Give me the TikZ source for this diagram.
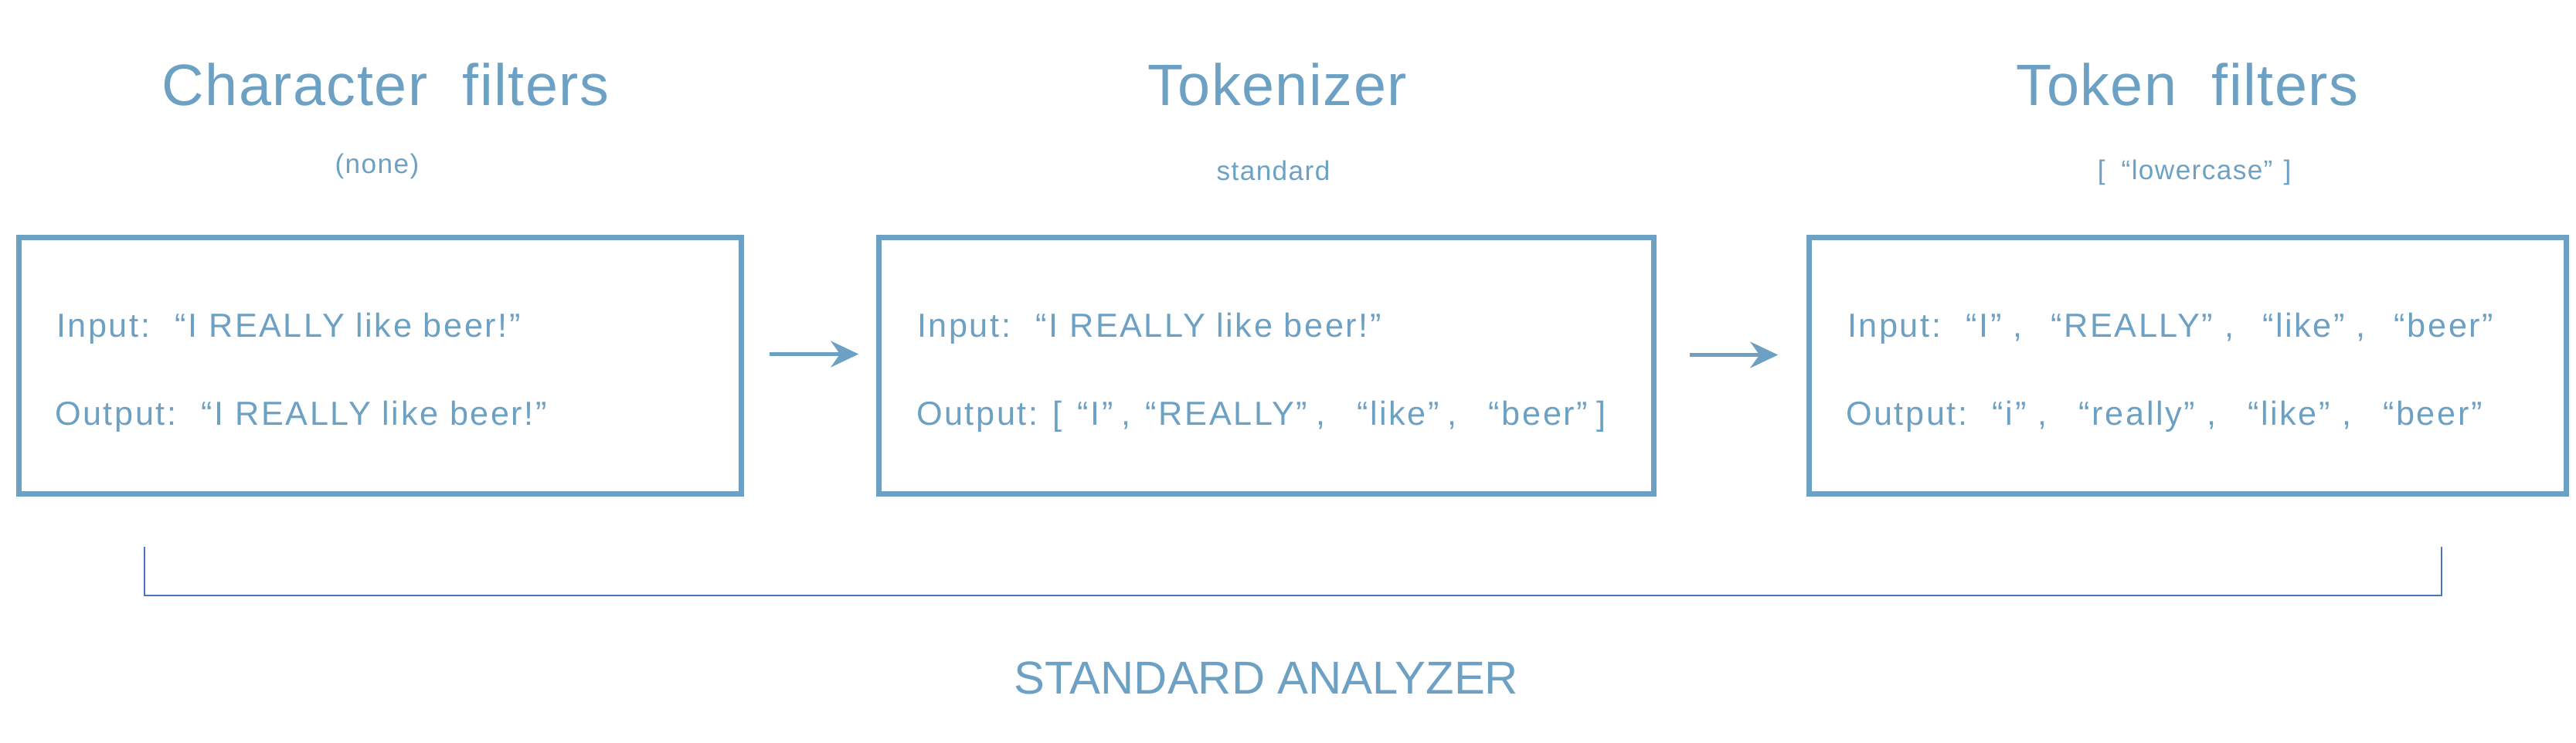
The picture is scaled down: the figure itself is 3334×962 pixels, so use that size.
\documentclass[tikz,border=0pt]{standalone}
\usepackage{fontspec}
\setmainfont{Liberation Sans}
\newfontfamily\titlefont{Liberation Sans}[LetterSpace=2]
\newfontfamily\subfont{Liberation Sans}[LetterSpace=4]
\newfontfamily\bodyfont{Liberation Sans}[LetterSpace=6]
\usepackage{xcolor}
\usetikzlibrary{arrows.meta}
\usetikzlibrary{positioning}
\definecolor{steel}{HTML}{6DA1C4}
\definecolor{bracecol}{HTML}{4A74C2}

\begin{document}
\begin{tikzpicture}[x=0.01cm, y=-0.01cm, every node/.style={text=steel, inner sep=0pt, outer sep=0pt},
	stagebox/.style={draw=steel, line width=2pt, minimum height=3.32cm},
	title/.style={anchor=base, font=\titlefont\fontsize{21.5}{24}\selectfont},
	sub/.style={anchor=base, font=\subfont\fontsize{10}{12}\selectfont},
	line/.style={anchor=base west, font=\bodyfont\fontsize{12.3}{14}\selectfont},
	arr/.style={draw=steel, line width=1.3pt, -{Stealth[length=0.36cm, width=0.34cm, inset=0.12cm]}}]
			
			\useasboundingbox (0,0) rectangle (3334,962);
			
			\node[stagebox, minimum width=9.35cm] (b1) at (492,473.5) {};
			\node[stagebox, minimum width=10.03cm] (b2) at (1639,473.5) {};
			\node[stagebox, minimum width=9.8cm] (b3) at (2831.5,473.5) {};
			
			%  titles
			\node[title] (t1) at (499,137) {Character\ \hspace{0.3em}filters};
			\node[title] (t2) at (1653,137) {Tokenizer};
			\node[title] (t3) at (2831,137) {Token\ \hspace{0.3em}filters};
			\node[sub] (s1) at (488,225) {(none)};
			\node[sub] (s2) at (1648,234) {standard};
			\node[sub] (s3) at (2840,233) {[\hspace{0.6em}“lowercase”\hspace{0.4em}]};
			
			%  for b1
			\node[line] (in1) at (73,437) {Input:\hspace{0.75em}“I REALLY like beer!”};
			\node[line] (out1) at (71,551) {Output:\hspace{0.75em}“I REALLY like beer!”};
			%  for b2
			\node[line] (in2) at (1187,437) {Input:\hspace{0.75em}“I REALLY like beer!”};
			\node[line] (out2) at (1186,551) {Output:\hspace{0.45em}[\hspace{0.45em}“I”\hspace{0.25em},\hspace{0.45em}“REALLY”\hspace{0.25em},\hspace{0.95em}“like”\hspace{0.25em},\hspace{0.95em}“beer”\hspace{0.25em}]};
			%  for b3
			\node[line] (in3) at (2391,437) {Input:\hspace{0.75em}“I”\hspace{0.35em},\hspace{0.85em}“REALLY”\hspace{0.35em},\hspace{0.85em}“like”\hspace{0.35em},\hspace{0.85em}“beer”};
			\node[line] (out3) at (2389,551) {Output:\hspace{0.75em}“i”\hspace{0.35em},\hspace{0.95em}“really”\hspace{0.35em},\hspace{0.95em}“like”\hspace{0.35em},\hspace{0.95em}“beer”};
			
			\draw[arr, shorten <=0.36cm, shorten >=0.26cm] ([yshift=0.15cm]b1.east) -- ([yshift=0.15cm]b2.west);
			\draw[arr, shorten <=0.46cm, shorten >=0.40cm] ([yshift=0.14cm]b2.east) -- ([yshift=0.14cm]b3.west);
			
			% analyzer bracket
			\coordinate (bl) at (187,708);
			\coordinate (br) at (3160,708);
			\draw[bracecol, line width=0.6pt] (bl) -- ++(0,63) -| (br);
			\node[anchor=base, font=\fontsize{17}{20}\selectfont] (an) at (1639,899) {STANDARD ANALYZER};
		\end{tikzpicture}
\end{document}
